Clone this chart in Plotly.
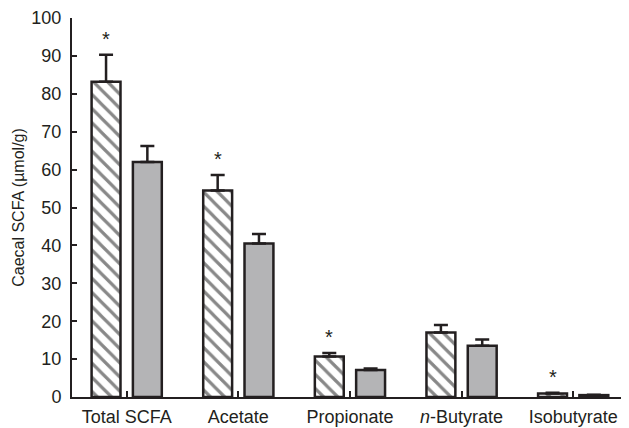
import plotly.graph_objects as go

categories = ["Total SCFA", "Acetate", "Propionate", "<i>n</i>-Butyrate", "Isobutyrate"]
hatched_vals = [83.2, 54.5, 10.7, 17.0, 0.9]
hatched_se = [7.1, 4.1, 0.9, 2.0, 0.2]
gray_vals = [62.0, 40.5, 7.1, 13.5, 0.5]
gray_se = [4.2, 2.5, 0.4, 1.7, 0.1]
sig = [True, True, True, False, True]
y_ticks = [0, 10, 20, 30, 40, 50, 60, 70, 80, 90, 100]

FONT = "Liberation Sans, Arial, sans-serif"
TXT = "#231f20"

fig = go.Figure()
fig.add_trace(go.Bar(
    x=categories, y=hatched_vals,
    marker=dict(color="white", line=dict(color=TXT, width=2.5),
                pattern=dict(shape="\\", fgcolor="#111111", bgcolor="white", size=10, solidity=0.32)),
    error_y=dict(type="data", array=hatched_se, arrayminus=[0]*5, symmetric=False,
                 color=TXT, thickness=2.5, width=7),
    showlegend=False,
))
fig.add_trace(go.Bar(
    x=categories, y=gray_vals,
    marker=dict(color="#b4b4b6", line=dict(color=TXT, width=2.5)),
    error_y=dict(type="data", array=gray_se, arrayminus=[0]*5, symmetric=False,
                 color=TXT, thickness=2.5, width=7),
    showlegend=False,
))

for i, (v, se, s) in enumerate(zip(hatched_vals, hatched_se, sig)):
    if s:
        fig.add_annotation(x=i - 0.185, y=v + se, text="*", showarrow=False,
                           yanchor="bottom", yshift=3, font=dict(size=20, color=TXT, family=FONT))

# page body has an 8px default margin, so the figure is 8px smaller and shifted
fig.update_layout(
    width=621, height=420,
    margin=dict(l=64, r=0, t=7, b=31),
    plot_bgcolor="white", paper_bgcolor="white",
    barmode="group", bargap=0.26, bargroupgap=0.30,
    font=dict(family=FONT, color=TXT, size=18),
)
fig.update_xaxes(
    range=[-0.49, 4.5], showline=True, linecolor=TXT, linewidth=1.5,
    ticks="inside", ticklen=6, tickwidth=1.5, tickcolor=TXT,
    tickfont=dict(size=18, family=FONT, color=TXT), showgrid=False,
    ticklabeloverflow="allow", ticklabelstandoff=3,
)
fig.update_yaxes(
    range=[0, 100], tickvals=y_ticks, showline=True, linecolor=TXT, linewidth=2,
    ticks="inside", ticklen=5, tickwidth=2, tickcolor=TXT,
    tickfont=dict(size=18, family=FONT, color=TXT), showgrid=False, zeroline=False,
    ticklabeloverflow="allow", ticklabelstandoff=5,
    title=dict(text="Caecal SCFA (µmol/g)", font=dict(size=16, family=FONT, color=TXT), standoff=3),
)

fig.write_html("out.html")
